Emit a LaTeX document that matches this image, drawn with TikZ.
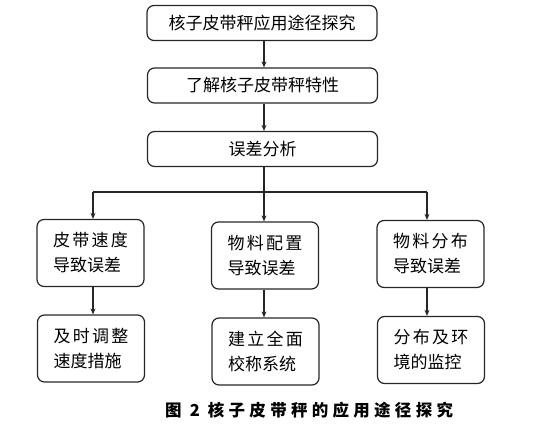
\documentclass[tikz,border=0pt]{standalone}
\usepackage{fontspec}
\setmainfont{Noto Sans CJK SC}
\newfontfamily\cjk{Noto Sans CJK SC}
\newfontfamily\cjkwide[LetterSpace=13]{Noto Sans CJK SC}
\newfontfamily\cjkcap[LetterSpace=26]{Noto Sans CJK SC}
\usetikzlibrary{arrows.meta}
\begin{document}
\begin{tikzpicture}[x=1pt,y=-1pt,
  box/.style={draw=black!85, line width=1.2pt, rounded corners=7pt, inner sep=0pt, font=\fontsize{17}{25}\cjk},
  widebox/.style={box, minimum width=230pt, minimum height=35pt},
  smallbox/.style={box, minimum width=107pt, minimum height=67pt, align=left},
  conn/.style={draw=black!85, line width=1.1pt},
  arr/.style={conn, -{Stealth[length=6pt,width=5pt]}}]
\useasboundingbox (0,0) rectangle (539,430);
\node[widebox] (b1) at (262,23) {核子皮带秤应用途径探究};
\node[widebox] (b2) at (262.5,85.5) {了解核子皮带秤特性};
\node[widebox] (b3) at (262.5,149) {误差分析};
\node[smallbox] (l1) at (90.5,253) {{\cjkwide 皮带速度}\\导致误差};
\node[smallbox] (l2) at (91,348.5) {{\cjkwide 及时调整}\\速度措施};
\node[smallbox] (m1) at (265,255.5) {{\cjkwide 物料配置}\\导致误差};
\node[smallbox] (m2) at (265.5,351.5) {{\cjkwide 建立全面}\\校称系统};
\node[smallbox] (r1) at (430.5,254) {{\cjkwide 物料分布}\\导致误差};
\node[smallbox] (r2) at (431,350) {{\cjkwide 分布及环}\\境的监控};
\coordinate (jl) at (93,192);
\coordinate (jm) at (264,192);
\coordinate (jr) at (427,192);
\draw[arr] (b1.south -| jm) -- (b2.north -| jm);
\draw[arr] (b2.south -| jm) -- (b3.north -| jm);
\draw[conn] (b3.south -| jm) -- (jm);
\draw[conn] (jl) -- (jr);
\draw[arr] (jl) -- (l1.north -| jl);
\draw[arr] (jm) -- (m1.north -| jm);
\draw[arr] (jr) -- (r1.north -| jr);
\draw[arr] (l1.south -| jl) -- (l2.north -| jl);
\draw[arr] (m1.south -| jm) -- (m2.north -| jm);
\draw[arr] (r1.south -| jr) -- (r2.north -| jr);
\node[anchor=west, inner sep=0pt, font=\fontsize{16.5}{18}\cjkcap\bfseries] (cap) at (165,410) {图 2 核子皮带秤的应用途径探究};
\end{tikzpicture}
\end{document}
